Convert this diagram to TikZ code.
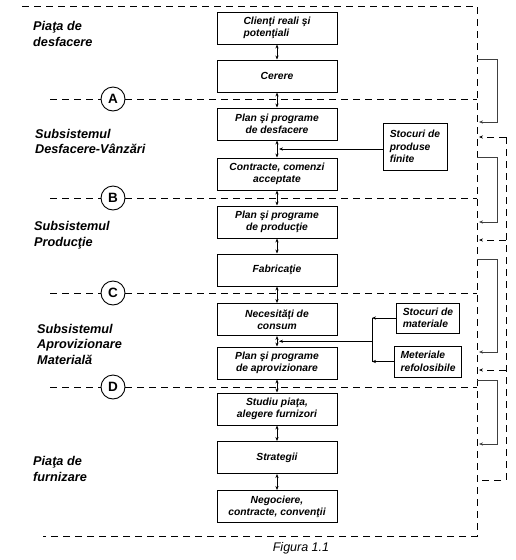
\documentclass[tikz,border=0pt]{standalone}
\usepackage{fontspec}
\setmainfont{Liberation Sans}
\usetikzlibrary{arrows.meta,calc}
\begin{document}
\begin{tikzpicture}[x=1pt,y=-1pt,
  box/.style={draw,line width=1pt,minimum width=120pt,minimum height=32pt,inner sep=1pt,align=center,font=\fontsize{10.3}{12}\selectfont\bfseries\itshape},
  sbox/.style={draw,line width=1pt,align=left,inner xsep=6pt,inner ysep=1pt,font=\fontsize{10.3}{12.5}\selectfont\bfseries\itshape},
  lab/.style={anchor=west,align=left,inner sep=0pt,font=\fontsize{12.7}{15.5}\selectfont\bfseries\itshape},
  circ/.style={draw,circle,line width=0.9pt,minimum size=24pt,inner sep=0pt,font=\fontsize{13.5}{13.5}\selectfont\bfseries},
  dsh/.style={dash pattern=on 7pt off 5pt,line width=0.9pt,draw=black},
  tip/.tip={Stealth[length=4pt,width=3.2pt]},
  dbl/.style={{tip}-{tip},line width=0.8pt},
  arr/.style={-{tip},line width=0.8pt},
  brk/.style={-{tip},line width=1pt,draw=black!75},
]
\useasboundingbox (0,0) rectangle (516,560);

% frame
\draw[dsh] (22,6) -- (477,6) -- (477,536) -- (43,536);

% separators
\node[circ] (cA) at (113,99) {A};
\node[circ] (cB) at (113,198) {B};
\node[circ] (cC) at (113,293) {C};
\node[circ] (cD) at (113,387) {D};
\foreach \c/\y in {cA/99,cB/198,cC/293,cD/387}{
  \draw[dsh] (50,\y) -- (\c.west);
  \draw[dsh] (\c.east) -- (477,\y);
}

% left labels
\node[lab] (l1) at (33,34) {Piaţa de\\desfacere};
\node[lab] (l2) at (35,141.5) {Subsistemul\\Desfacere-Vânzări};
\node[lab] (l3) at (34,235) {Subsistemul\\Producţie};
\node[lab] (l4) at (37,344) {Subsistemul\\Aprovizionare\\Materială};
\node[lab] (l5) at (33,469) {Piaţa de\\furnizare};

% central boxes
\node[box,align=left] (b1) at (277,28) {Clienţi reali şi\\potenţiali};
\node[box] (b2) at (277,76) {Cerere};
\node[box] (b3) at (277,124) {Plan şi programe\\de desfacere};
\node[box] (b4) at (277,174) {Contracte, comenzi\\acceptate};
\node[box] (b5) at (277,222) {Plan şi programe\\de producţie};
\node[box] (b6) at (277,270) {Fabricaţie};
\node[box] (b7) at (277,319.5) {Necesităţi de\\consum};
\node[box] (b8) at (277,363) {Plan şi programe\\de aprovizionare};
\node[box] (b9) at (277,409) {Studiu piaţa,\\alegere furnizori};
\node[box] (b10) at (277,457.5) {Strategii};
\node[box] (b11) at (277,506.5) {Negociere,\\contracte, convenţii};

\foreach \a/\b in {b1/b2,b2/b3,b3/b4,b4/b5,b5/b6,b6/b7,b7/b8,b8/b9,b9/b10,b10/b11}{
  \draw[dbl] (\a.south) -- (\b.north);
}

% side boxes
\node[sbox,minimum width=64pt,minimum height=47pt] (spf) at (415,146.5) {Stocuri de\\produse\\finite};
\node[sbox,minimum width=62pt,minimum height=30pt] (stm) at (428,318) {Stocuri de\\materiale};
\node[sbox,minimum width=62pt,minimum height=31pt] (mr) at (428,361.5) {Meteriale\\refolosibile};

\coordinate (m3) at ($(b3.south)!0.5!(b4.north)$);
\draw[arr] (spf.west |- m3) -- ([xshift=2pt]m3);

\coordinate (jx) at (372,0);
\coordinate (m7) at ($(b7.south)!0.5!(b8.north)$);
\draw[arr] (stm.west) -- (stm.west -| jx);
\draw[arr] (mr.west) -- (mr.west -| jx);
\draw[line width=0.8pt] (stm.west -| jx) -- (mr.west -| jx);
\draw[arr] (jx |- m7) -- ([xshift=2pt]m7);

% right brackets
\draw[brk] (477,59) -| (497,122) -- (479,122);
\draw[brk] (477,157) -| (497,222) -- (479,222);
\draw[brk] (477,259) -| (497,352) -- (479,352);
\draw[brk] (477,380) -| (497,444) -- (479,444);

% dashed feedback
\draw[dsh] (506,137) -- (506,480) -- (479,480);
\foreach \y in {137,240,370}{
  \draw[dsh,-{tip}] (506,\y) -- (479,\y);
}

% caption
\node[font=\fontsize{12.5}{14}\selectfont\itshape] (fig) at (301,548) {Figura 1.1};
\end{tikzpicture}
\end{document}
